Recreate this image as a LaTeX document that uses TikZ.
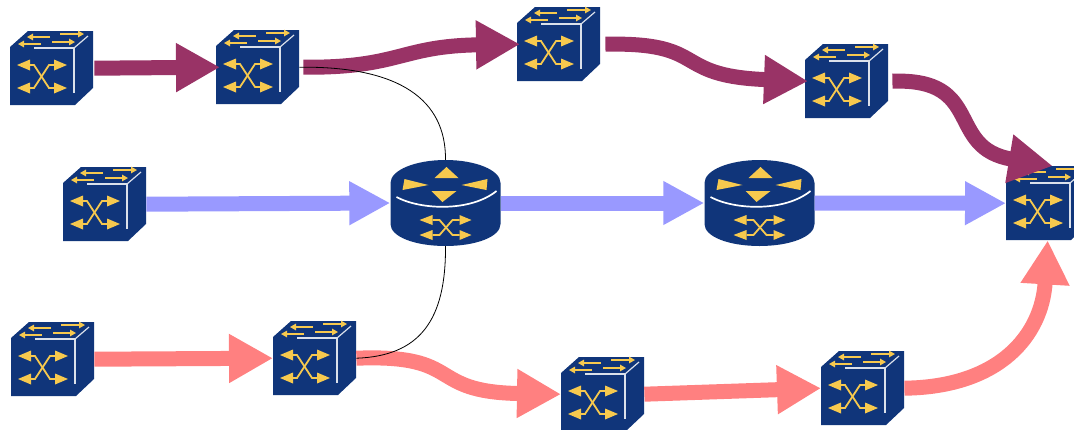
\documentclass[tikz,border=0pt]{standalone}
\usepackage{tikz}
\usetikzlibrary{arrows.meta}
\usetikzlibrary{positioning}
\definecolor{navy}{HTML}{10357A}
\definecolor{gold}{HTML}{F7C94E}
\definecolor{plum}{HTML}{993366}
\definecolor{lilac}{HTML}{9999FF}
\definecolor{salmon}{HTML}{FF8080}
\tikzset{
  flowline/.style={line width=15pt,-{Triangle[length=44pt,width=46pt]}},
  hub/.style={minimum width=83pt,minimum height=74pt,inner sep=0pt,anchor=north west},
  drum/.style={minimum width=110pt,minimum height=86pt,inner sep=0pt},
  tinyarrow/.style={gold,line width=1.3pt,-{Triangle[length=6pt,width=6.5pt]}},
  crossing/.style={gold,line width=1.8pt},
  cubeicon/.pic={
    \fill[navy](0,16)--(18,0)--(83,0)--(83,57)--(65,74)--(0,74)--cycle;
    \draw[white!85!navy,line width=1.2pt](24,17)--(64,17)--(64,62);
    \draw[white!85!navy,line width=1.2pt](64,17)--(78,5);
    \draw[tinyarrow](40,6)--(17,6);
    \draw[tinyarrow](50,3)--(74,3);
    \draw[tinyarrow](31,13)--(8,13);
    \draw[tinyarrow](42,11)--(65,11);
    \draw[crossing](20,34)--(24,34)--(39,57)--(44,57);
    \draw[crossing](20,57)--(24,57)--(39,34)--(44,34);
    \foreach \y in {34,57}{
      \fill[gold](7,\y)--(20,\y-5.5)--(20,\y+5.5)--cycle;
      \fill[gold](57,\y)--(44,\y-5.5)--(44,\y+5.5)--cycle;
    }
  },
  drumicon/.pic={
    \fill[navy](-55,21)--(-55,-20)..controls(-55,-33)and(-30,-43)..(0,-43)
      ..controls(30,-43)and(55,-33)..(55,-20)--(55,21)
      ..controls(55,34)and(30,43)..(0,43)..controls(-30,43)and(-55,34)..(-55,21)--cycle;
    \draw[white,line width=1.7pt](-49,-6)..controls(-25,7)and(25,9)..(51,-12);
    \fill[gold](-11,-25)--(1,-36)--(13,-25)--cycle;
    \fill[gold](-41,-24)--(-17,-18)--(-43,-13)--cycle;
    \fill[gold](16,-18)--(42,-24)--(41,-13)--cycle;
    \fill[gold](-14,-12)--(11,-12)--(-3,-1)--cycle;
    \draw[crossing](-13,17)--(-6,17)--(7,32)--(14,32);
    \draw[crossing](-13,32)--(-6,32)--(7,17)--(14,17);
    \foreach \y in {17,32}{
      \fill[gold](-26,\y)--(-13,\y-5)--(-13,\y+5)--cycle;
      \fill[gold](26,\y)--(14,\y-5)--(14,\y+5)--cycle;
    }
  }
}
\begin{document}
\begin{tikzpicture}[x=1pt,y=-1pt]
  \path[use as bounding box,clip](0,0) rectangle (1074,429);
  \foreach \nm/\x/\y in {s1/10/31,s2/216/30,s3/517/7,s4/805/44,s5/63/167,s6/1006/166,s7/11/322,s8/273/321,s9/561/357,s10/821/351}{
    \pic at (\x,\y) {cubeicon};
    \node[hub] (\nm) at (\x,\y) {};
  }
  \foreach \nm/\x in {r1/445.5,r2/759.5}{
    \pic at (\x,203) {drumicon};
    \node[drum] (\nm) at (\x,203) {};
  }

  \draw[flowline,plum]([xshift=1pt]s1.east)--([xshift=4pt]s2.west);
  \draw[flowline,plum]([xshift=4pt]s2.east)..controls(400,68)and(400,46)..([xshift=3pt]s3.west);
  \draw[flowline,plum]([xshift=5pt]s3.east)..controls(710,42)and(670,76)..([xshift=3pt]s4.west);
  \draw[flowline,plum]([xshift=4pt]s4.east)..controls(985,78)and(945,148)..([xshift=5pt]s6.north);

  \draw[flowline,lilac,-{Triangle[length=41pt,width=41pt]}](s5.east)--(r1.west);
  \draw[flowline,lilac,-{Triangle[length=41pt,width=41pt]}](r1.east)--(r2.west);
  \draw[flowline,lilac,-{Triangle[length=41pt,width=41pt]}](r2.east)--(s6.west);

  \draw[flowline,salmon](s7.east)--(s8.west);
  \draw[flowline,salmon](s8.east)..controls(465,354)and(425,392)..(s9.west);
  \draw[flowline,salmon](s9.east)--(s10.west);
  \draw[flowline,salmon](s10.east)..controls(1000,387)and(1042,335)..(s6.south);

  \draw[line width=0.8pt](s2.east)..controls(400,66)and(446,100)..(r1.north);
  \draw[line width=0.8pt](r1.south)..controls(446,320)and(420,356)..(s8.east);
\end{tikzpicture}
\end{document}
